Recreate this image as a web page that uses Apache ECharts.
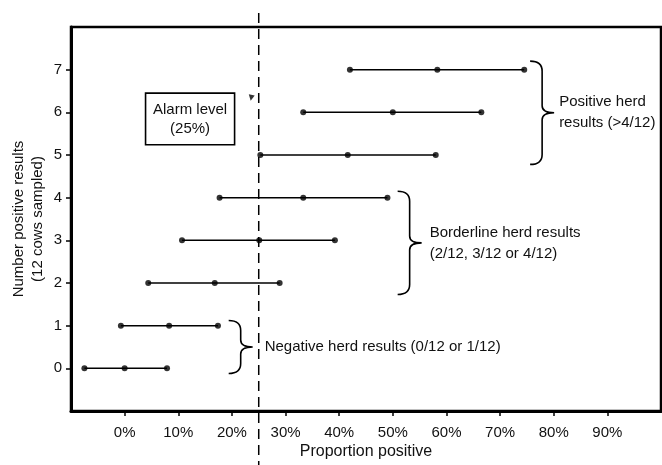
<!DOCTYPE html>
<html>
<head>
<meta charset="utf-8">
<script src="https://cdn.jsdelivr.net/npm/echarts@6/dist/echarts.min.js"></script>
<style>
  html, body { margin: 0; padding: 0; background: #fff; }
  #chart { width: 662px; height: 465px; }
</style>
</head>
<body>
<div id="chart"></div>
<script>
// number of positive cows (out of 12) and the proportion interval for each
const rows = [0, 1, 2, 3, 4, 5, 6, 7]
const lower = [-7.5, -0.7, 4.4, 10.7, 17.7, 25.3, 33.3, 42.0]
const estimate = [0, 8.3, 16.8, 25.1, 33.3, 41.6, 50.0, 58.3]
const upper = [7.9, 17.4, 28.9, 39.2, 49.0, 58.0, 66.5, 74.5]
const xTicks = [0, 10, 20, 30, 40, 50, 60, 70, 80, 90]
const yTicks = [0, 1, 2, 3, 4, 5, 6, 7]
const alarmLevel = 25
const braceLabels = [
  'Positive herd\nresults (>4/12)',
  'Borderline herd results\n(2/12, 3/12 or 4/12)',
  'Negative herd results (0/12 or 1/12)'
]

const font = 'Liberation Sans, Arial, sans-serif'
const chart = echarts.init(document.getElementById('chart'))

// brace groups: x where the brace starts, y top, y bottom
const braceData = [[75.6, 7.2, 4.78], [50.9, 4.15, 1.73], [19.4, 1.12, -0.12]]
const braceTextGap = [5, 8, 12]

const points = []
rows.forEach((r, i) => {
  points.push([lower[i], r], [estimate[i], r], [upper[i], r])
})

const option = {
  animation: false,
  textStyle: { fontFamily: font },
  grid: {
    left: 71, right: 1, top: 27, bottom: 54,
    outerBoundsMode: 'none',
    show: true, borderColor: '#000', borderWidth: 2.5, backgroundColor: 'transparent'
  },
  xAxis: {
    type: 'value', min: -10, max: 100, interval: 10,
    name: 'Proportion positive', nameLocation: 'middle', nameGap: 33, nameMoveOverlap: false,
    nameTextStyle: { fontSize: 16, color: '#111', fontFamily: font },
    splitLine: { show: false },
    axisLine: { onZero: false, lineStyle: { color: '#000', width: 3 } },
    axisTick: { customValues: xTicks, length: 5, lineStyle: { color: '#000', width: 1.5 } },
    axisLabel: { customValues: xTicks, formatter: v => v + '%', margin: 14, fontSize: 15, color: '#111', fontFamily: font }
  },
  yAxis: {
    type: 'value', min: -1, max: 8, interval: 1,
    name: 'Number positive results\n(12 cows sampled)', nameLocation: 'middle', nameGap: 24, nameMoveOverlap: false,
    nameTextStyle: { fontSize: 15, color: '#111', lineHeight: 19, fontFamily: font },
    splitLine: { show: false },
    axisLine: { onZero: false, lineStyle: { color: '#000', width: 3 } },
    axisTick: { customValues: yTicks, length: 5, lineStyle: { color: '#000', width: 1.5 } },
    axisLabel: { customValues: yTicks, margin: 9, fontSize: 15, color: '#111', fontFamily: font }
  },
  series: [
    {
      // dashed alarm line, running past the plot frame
      type: 'custom', clip: false, silent: true,
      data: [[alarmLevel, -1, 8]],
      encode: { x: 0, y: [1, 2] },
      renderItem (params, api) {
        const top = api.coord([api.value(0), api.value(2)])
        const bot = api.coord([api.value(0), api.value(1)])
        return {
          type: 'line',
          shape: { x1: top[0], y1: top[1] - 14, x2: bot[0], y2: bot[1] + 56 },
          style: { stroke: '#000', lineWidth: 1.5, lineDash: [10, 6] }
        }
      }
    },
    {
      type: 'custom', silent: true,
      data: rows.map((r, i) => [lower[i], upper[i], r]),
      encode: { x: [0, 1], y: 2 },
      renderItem (params, api) {
        const a = api.coord([api.value(0), api.value(2)])
        const b = api.coord([api.value(1), api.value(2)])
        return {
          type: 'line',
          shape: { x1: a[0], y1: a[1], x2: b[0], y2: b[1] },
          style: { stroke: '#000', lineWidth: 1.5 }
        }
      }
    },
    {
      type: 'scatter', symbol: 'circle', symbolSize: 6, silent: true,
      itemStyle: { color: '#000' },
      data: points
    },
    {
      // small arrow head next to the alarm line
      type: 'scatter', symbol: 'triangle', symbolSize: 6, symbolRotate: 170, silent: true,
      itemStyle: { color: '#000' },
      data: [[23.6, 6.34]]
    },
    {
      type: 'custom', clip: false, silent: true,
      data: braceData,
      encode: { x: 0, y: [1, 2] },
      renderItem (params, api) {
        const t = api.coord([api.value(0), api.value(1)])
        const b = api.coord([api.value(0), api.value(2)])
        const x0 = t[0]
        const y0 = t[1]
        const y1 = b[1]
        const ym = (y0 + y1) / 2
        const s = x0 + 12
        const tip = x0 + 24
        const d = `M${x0},${y0} Q${s},${y0} ${s},${y0 + 10} L${s},${ym - 7} Q${s},${ym} ${tip},${ym} ` +
          `Q${s},${ym} ${s},${ym + 7} L${s},${y1 - 10} Q${s},${y1} ${x0},${y1}`
        return {
          type: 'group',
          children: [
            { type: 'path', shape: { pathData: d }, style: { fill: 'none', stroke: '#000', lineWidth: 1.6 } },
            {
              type: 'text',
              style: {
                x: tip + braceTextGap[params.dataIndex], y: ym, text: braceLabels[params.dataIndex],
                fill: '#111', font: '15px ' + font, lineHeight: 21,
                textAlign: 'left', textVerticalAlign: 'middle'
              }
            }
          ]
        }
      }
    },
    {
      // alarm level box
      type: 'custom', clip: false, silent: true,
      data: [[3.9, 6.45, 20.5, 5.24]],
      encode: { x: [0, 2], y: [1, 3] },
      renderItem (params, api) {
        const p = api.coord([api.value(0), api.value(1)])
        const q = api.coord([api.value(2), api.value(3)])
        return {
          type: 'group',
          children: [
            {
              type: 'rect',
              shape: { x: p[0], y: p[1], width: q[0] - p[0], height: q[1] - p[1] },
              style: { fill: '#fff', stroke: '#000', lineWidth: 1.6 }
            },
            {
              type: 'text',
              style: {
                x: (p[0] + q[0]) / 2, y: (p[1] + q[1]) / 2,
                text: 'Alarm level\n(25%)', fill: '#111', font: '15px ' + font, lineHeight: 19,
                textAlign: 'center', textVerticalAlign: 'middle'
              }
            }
          ]
        }
      }
    }
  ]
}

chart.setOption(option)
window.addEventListener('resize', () => chart.resize())
</script>
</body>
</html>
